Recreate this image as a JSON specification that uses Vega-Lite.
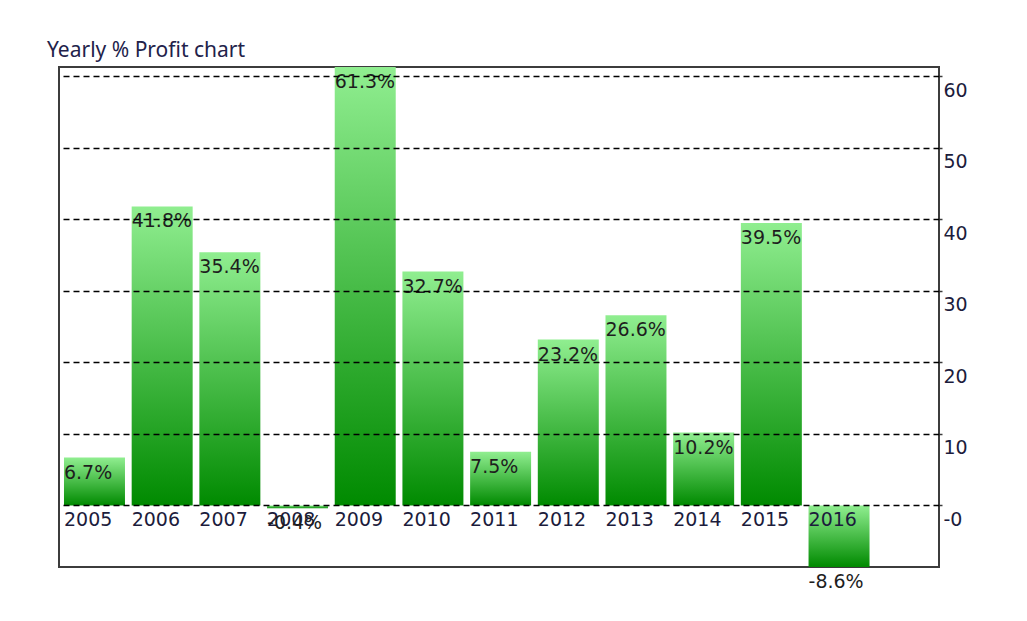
{
  "$schema": "https://vega.github.io/schema/vega-lite/v6.json",
  "width": 880,
  "height": 500,
  "autosize": {"type": "none"},
  "padding": {"left": 59, "top": 67, "right": 88, "bottom": 54},
  "background": "#ffffff",
  "title": {
    "text": "Yearly % Profit chart",
    "anchor": "start",
    "dx": -12,
    "offset": -11,
    "baseline": "alphabetic",
    "font": "Noto Sans",
    "fontSize": 21,
    "fontWeight": "normal",
    "color": "#22224a"
  },
  "config": {
    "view": {"stroke": "#3c3c3c", "strokeWidth": 2}
  },
  "data": {
    "values": [
      {"year": "2005", "profit": 6.7, "label": "6.7%"},
      {"year": "2006", "profit": 41.8, "label": "41.8%"},
      {"year": "2007", "profit": 35.4, "label": "35.4%"},
      {"year": "2008", "profit": -0.4, "label": "-0.4%"},
      {"year": "2009", "profit": 61.3, "label": "61.3%"},
      {"year": "2010", "profit": 32.7, "label": "32.7%"},
      {"year": "2011", "profit": 7.5, "label": "7.5%"},
      {"year": "2012", "profit": 23.2, "label": "23.2%"},
      {"year": "2013", "profit": 26.6, "label": "26.6%"},
      {"year": "2014", "profit": 10.2, "label": "10.2%"},
      {"year": "2015", "profit": 39.5, "label": "39.5%"},
      {"year": "2016", "profit": -8.6, "label": "-8.6%"}
    ]
  },
  "encoding": {
    "x": {
      "field": "year",
      "type": "nominal",
      "sort": null,
      "axis": null,
      "scale": {"paddingInner": 0.099, "paddingOuter": 0.55, "align": 0.067}
    }
  },
  "layer": [
    {
      "mark": {
        "type": "bar",
        "color": {
          "gradient": "linear",
          "x1": 0, "y1": 0, "x2": 0, "y2": 1,
          "stops": [
            {"offset": 0, "color": "#90ee90"},
            {"offset": 1, "color": "#008a00"}
          ]
        }
      },
      "encoding": {
        "y": {
          "field": "profit",
          "type": "quantitative",
          "scale": {"domain": [-8.6, 61.3], "nice": false, "zero": false},
          "axis": {
            "orient": "right",
            "title": null,
            "values": [0, 10, 20, 30, 40, 50, 60],
            "labelExpr": "datum.value === 0 ? '-0' : datum.label",
            "domain": false,
            "grid": true,
            "gridColor": "#000000",
            "gridDash": [6, 4],
            "gridWidth": 1.3,
            "gridOpacity": 1,
            "ticks": true,
            "tickSize": 3,
            "tickColor": "#3c3c3c",
            "tickWidth": 1.5,
            "labelPadding": 1,
            "labelBaseline": "top",
            "labelOffset": 5,
            "labelFont": "DejaVu Sans",
            "labelFontSize": 19,
            "labelColor": "#1c1c3c",
            "zindex": 1
          }
        }
      }
    },
    {
      "mark": {
        "type": "text",
        "align": "left",
        "baseline": "top",
        "dy": 6,
        "font": "DejaVu Sans",
        "fontSize": 19,
        "color": "#1c1c3c"
      },
      "encoding": {
        "x": {"field": "year", "type": "nominal", "sort": null, "bandPosition": 0},
        "y": {"datum": 0, "type": "quantitative"},
        "text": {"field": "year", "type": "nominal"}
      }
    },
    {
      "mark": {
        "type": "text",
        "align": "left",
        "baseline": "top",
        "dy": 6,
        "font": "DejaVu Sans",
        "fontSize": 19,
        "color": "#1e1e1e"
      },
      "encoding": {
        "x": {"field": "year", "type": "nominal", "sort": null, "bandPosition": 0},
        "y": {"field": "profit", "type": "quantitative"},
        "text": {"field": "label", "type": "nominal"}
      }
    }
  ]
}
